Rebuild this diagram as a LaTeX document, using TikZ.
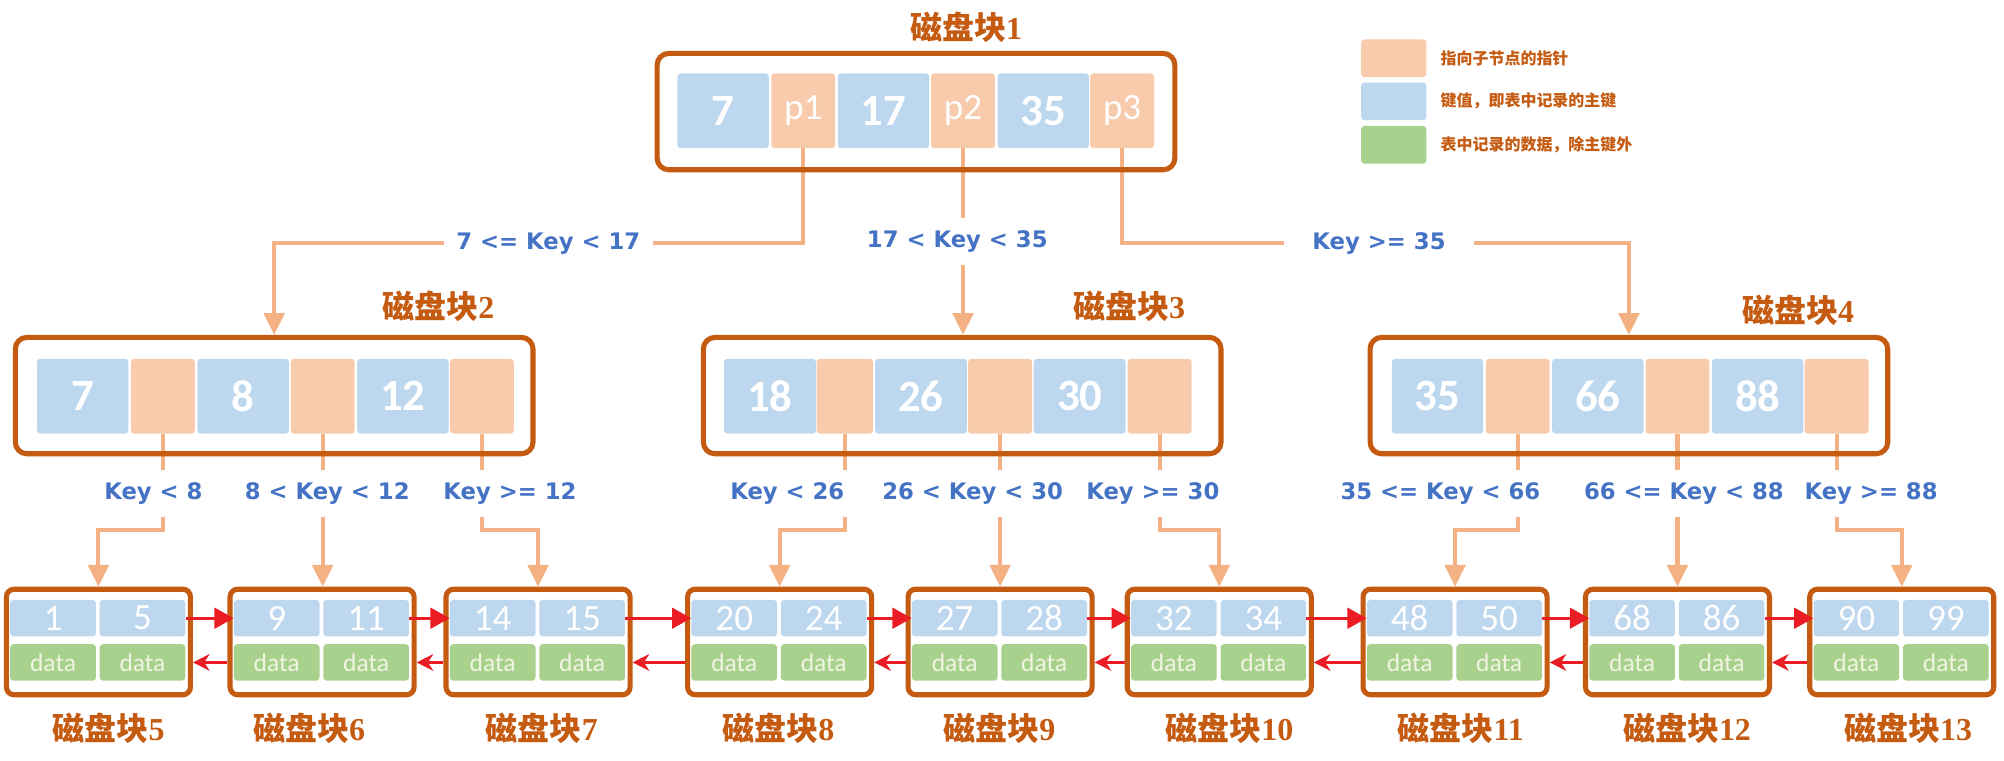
\documentclass[tikz,border=0pt]{standalone}
\usepackage{fontspec}
\setmainfont{Carlito}
\newfontfamily\cjk{Noto Sans CJK SC}
\newfontfamily\labfont{DejaVu Sans}
\newfontfamily\serifd{Liberation Serif}
\usetikzlibrary{arrows.meta}
\pgfdeclarelayer{bg}
\pgfsetlayers{bg,main}
\definecolor{boxc}{RGB}{197,90,17}
\definecolor{bluec}{RGB}{189,215,238}
\definecolor{peachc}{RGB}{248,203,173}
\definecolor{greenc}{RGB}{169,209,142}
\definecolor{ptrc}{RGB}{244,177,131}
\definecolor{redc}{RGB}{234,28,36}
\definecolor{labc}{RGB}{68,114,196}
\definecolor{datac}{RGB}{240,244,224}
\tikzset{
 dbox/.style={draw=boxc, line width=4pt, rounded corners=9pt, inner sep=0pt, minimum width=405pt, minimum height=91pt},
 leafbox/.style={draw=boxc, line width=4pt, rounded corners=6pt, minimum width=144pt, minimum height=82.6pt, inner sep=0pt},
 bcell/.style={fill=bluec, rounded corners=2.5pt, minimum height=58.5pt, minimum width=71.5pt, inner sep=0pt, text=white, font=\bfseries\fontsize{35}{35}\selectfont},
 pcell/.style={fill=peachc, rounded corners=2.5pt, minimum height=58.5pt, minimum width=50pt, inner sep=0pt, text=white, font=\fontsize{29}{29}\selectfont},
 lbcell/.style={fill=bluec, rounded corners=2.5pt, minimum width=67pt, minimum height=28.5pt, inner sep=0pt, text=white, font=\fontsize{29}{29}\selectfont},
 lgcell/.style={fill=greenc, rounded corners=2.5pt, minimum width=67pt, minimum height=28.5pt, inner sep=0pt, text=datac, font=\fontsize{20}{20}\selectfont},
 ttl/.style={text=boxc, font=\bfseries\fontsize{25}{25}\selectfont, inner sep=0pt},
 klab/.style={text=labc, fill=white, font=\labfont\bfseries\fontsize{17.8}{18}\selectfont, inner sep=10pt},
 ptr/.style={draw=ptrc, line width=3.2pt, -{Triangle[length=17pt,width=16pt]}},
 fwd/.style={draw=redc, line width=2.6pt, -{Triangle[length=15pt,width=16pt]}},
 bwd/.style={draw=redc, line width=2.6pt, -{Stealth[length=13pt,width=13pt]}},
 swatch/.style={rounded corners=2.5pt, minimum width=51pt, minimum height=29.5pt, inner sep=0pt},
 legtxt/.style={text=boxc, font=\cjk\bfseries\fontsize{12.5}{13}\selectfont, anchor=west, inner sep=0pt},
}
\newcommand{\ttltext}[1]{{\cjk 磁盘块}{\serifd #1}}
\begin{document}
\begin{tikzpicture}[x=1pt,y=-1pt]
\useasboundingbox (0,0) rectangle (1568,595);

% ---------- legend ----------
\node[swatch, fill=peachc] (lg1) at (1090.5,45.5) {};
\node[swatch, fill=bluec] (lg2) at (1090.5,79.3) {};
\node[swatch, fill=greenc] (lg3) at (1090.5,113.3) {};
\node[legtxt] (lt1) at (1127,45.5) {指向子节点的指针};
\node[legtxt] (lt2) at (1127,79.3) {键值，即表中记录的主键};
\node[legtxt] (lt3) at (1127,113.3) {表中记录的数据，除主键外};

% ---------- root ----------
\node[ttl] (t1) at (756,21) {\ttltext{1}};
\node[dbox] (r) at (716.7,87.3) {};
\node[bcell] (rk1) at (565.75,86.7) {7};
\node[pcell] (rp1) at (628.5,86.7) {p1};
\node[bcell] (rk2) at (691.25,86.7) {17};
\node[pcell] (rp2) at (753.5,86.7) {p2};
\node[bcell] (rk3) at (816.25,86.7) {35};
\node[pcell] (rp3) at (878,86.7) {p3};

% ---------- level 2 ----------
\node[ttl] (t2) at (343,240) {\ttltext{2}};
\node[ttl] (t3) at (883.5,240) {\ttltext{3}};
\node[ttl] (t4) at (1407,243) {\ttltext{4}};

\node[dbox] (b2) at (214.5,309.5) {};
\node[bcell] (b2k1) at (64.75,310) {7};
\node[pcell] (b2p1) at (127.5,310) {};
\node[bcell] (b2k2) at (190.25,310) {8};
\node[pcell] (b2p2) at (252.5,310) {};
\node[bcell] (b2k3) at (315.25,310) {12};
\node[pcell] (b2p3) at (377,310) {};

\node[dbox] (b3) at (752.85,309.5) {};
\node[bcell, minimum width=71.9pt] (b3k1) at (602.45,310) {18};
\node[pcell, minimum width=44pt] (b3p1) at (661,310) {};
\node[bcell, minimum width=71.8pt] (b3k2) at (720.6,310) {26};
\node[pcell] (b3p2) at (782.5,310) {};
\node[bcell, minimum width=72pt] (b3k3) at (844.8,310) {30};
\node[pcell] (b3p3) at (907.3,310) {};

\node[dbox] (b4) at (1274.5,309.5) {};
\node[bcell] (b4k1) at (1124.75,310) {35};
\node[pcell] (b4p1) at (1187.5,310) {};
\node[bcell] (b4k2) at (1250.25,310) {66};
\node[pcell] (b4p2) at (1312.5,310) {};
\node[bcell] (b4k3) at (1375.25,310) {88};
\node[pcell] (b4p3) at (1437,310) {};

% ---------- labels ----------
\node[klab] (e1) at (429,190.4) {7 <= Key < 17};
\node[klab] (e2) at (749,189) {17 < Key < 35};
\node[klab, inner xsep=22pt] (e3) at (1079,190.4) {Key >= 35};
\node[klab] (f1) at (120,386) {Key < 8};
\node[klab] (f2) at (256,386) {8 < Key < 12};
\node[klab] (f3) at (399,386) {Key >= 12};
\node[klab] (f4) at (616,386) {Key < 26};
\node[klab] (f5) at (761,386) {26 < Key < 30};
\node[klab] (f6) at (902,386) {Key >= 30};
\node[klab] (f7) at (1127,386) {35 <= Key < 66};
\node[klab] (f8) at (1317.5,386) {66 <= Key < 88};
\node[klab] (f9) at (1464,386) {Key >= 88};

% ---------- leaves ----------
\foreach \n/\cx/\a/\b/\tx in {5/77/1/5/85, 6/252/9/11/242, 7/421/14/15/424, 8/610/20/24/609, 9/782.5/27/28/782, 10/954/32/34/962, 11/1138.5/48/50/1143, 12/1312.5/68/86/1320, 13/1488/90/99/1493}{
  \node[leafbox] (l\n) at (\cx,502.3) {};
  \node[lbcell] (l\n b1) at (\cx-35.5,483.7) {\a};
  \node[lbcell] (l\n b2) at (\cx+34.5,483.7) {\b};
  \node[lgcell] (l\n g1) at (\cx-35.5,518.3) {data};
  \node[lgcell] (l\n g2) at (\cx+34.5,518.3) {data};
  \node[ttl] (lt\n) at (\tx,570) {\ttltext{\n}};
}

% ---------- leaf links ----------
\foreach \p/\q in {5/6,6/7,7/8,8/9,9/10,10/11,11/12,12/13}{
  \draw[fwd] (l\p b2.east) -- (l\q b1.west);
  \draw[bwd] (l\q.west |- l\q g1) -- (l\p.east |- l\p g2);
}

% ---------- pointers ----------
\coordinate (h1) at (0,190.4);
\coordinate (h2) at (0,415);
\begin{pgfonlayer}{bg}
\draw[ptr] (rp1.south) -- (rp1.south |- h1) -| (b2.north);
\draw[ptr] (rp2.south) -- (rp2.south |- b3.north);
\draw[ptr] (rp3.south) -- (rp3.south |- h1) -| (b4.north);
\draw[ptr] (b2p1.south) -- (b2p1.south |- h2) -| (l5.north);
\draw[ptr] (b2p2.south) -- (b2p2.south |- l6.north);
\draw[ptr] (b2p3.south) -- (b2p3.south |- h2) -| (l7.north);
\draw[ptr] (b3p1.south) -- (b3p1.south |- h2) -| (l8.north);
\draw[ptr] (b3p2.south) -- (b3p2.south |- l9.north);
\draw[ptr] (b3p3.south) -- (b3p3.south |- h2) -| (l10.north);
\draw[ptr] (b4p1.south) -- (b4p1.south |- h2) -| (l11.north);
\draw[ptr] (b4p2.south) -- (b4p2.south |- l12.north);
\draw[ptr] (b4p3.south) -- (b4p3.south |- h2) -| (l13.north);
\end{pgfonlayer}
\end{tikzpicture}
\end{document}
